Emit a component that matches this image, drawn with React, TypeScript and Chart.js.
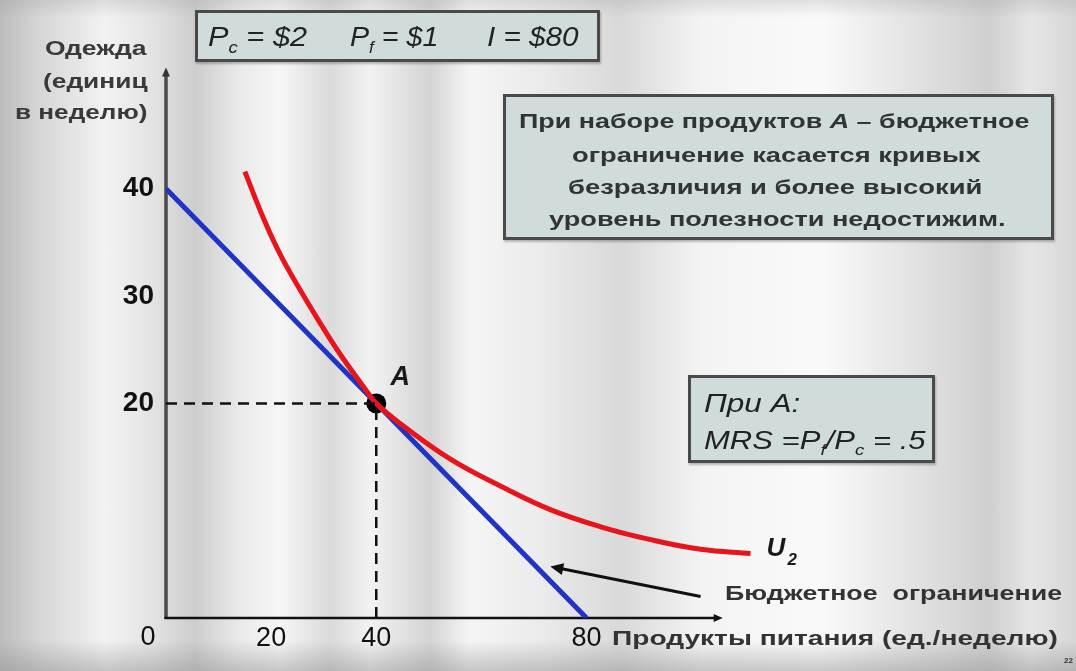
import React, { useEffect, useLayoutEffect, useRef } from "react";
import { Chart, registerables } from "chart.js";

Chart.register(...registerables);

// ---- data ----
const BUDGET_X = [0, 80];
const BUDGET_Y = [40, 0];
const U2_X = [15.0, 18.5, 21.7, 25.0, 28.8, 33.1, 37.5, 40, 44.6, 54.1, 63.6, 73.1, 82.7, 92.2, 101.7, 111.2];
const U2_Y = [41.6, 37.3, 33.9, 31.0, 27.9, 24.6, 21.6, 20, 18.1, 14.8, 12.3, 10.1, 8.5, 7.3, 6.4, 6.0];
const POINT_A = { x: 40, y: 20 };
const X_TICKS = [20, 40, 80];
const Y_TICKS = [20, 30, 40];
const ARROW_FROM = { x: 101.7, y: 2.0 };
const ARROW_TO = { x: 73.1, y: 4.8 };

const FONT = '"Liberation Sans", Arial, sans-serif';

function Fit(props: { x: number; y: number; w: number; size: number; bold?: boolean; italic?: boolean; color?: string; children: any }) {
  const ref = useRef<HTMLSpanElement>(null);
  useLayoutEffect(() => {
    const el = ref.current;
    if (!el) return;
    el.style.transform = "none";
    const nat = el.offsetWidth;
    if (nat > 0) el.style.transform = `scaleX(${props.w / nat})`;
  }, [props.w]);
  return (
    <span
      ref={ref}
      style={{
        position: "absolute",
        left: props.x,
        top: props.y - props.size * 0.6,
        lineHeight: `${props.size * 1.2}px`,
        fontSize: props.size,
        fontFamily: FONT,
        fontWeight: props.bold ? "bold" : "normal",
        fontStyle: props.italic ? "italic" : "normal",
        color: props.color || "#2a2a2a",
        whiteSpace: "nowrap",
        display: "inline-block",
        transformOrigin: "left center",
      }}
    >
      {props.children}
    </span>
  );
}

function Box(props: { l: number; t: number; r: number; b: number }) {
  return (
    <div
      style={{
        position: "absolute",
        left: props.l,
        top: props.t,
        width: props.r - props.l,
        height: props.b - props.t,
        boxSizing: "border-box",
        border: "3px solid #4a4a4a",
        background: "#d0dcdc",
        boxShadow: "1px 2px 2px rgba(0,0,0,0.25)",
      }}
    />
  );
}

const subStyle: React.CSSProperties = { fontSize: "0.6em", verticalAlign: "-0.4em" };

export default function App() {
  const canvasRef = useRef<HTMLCanvasElement>(null);

  useEffect(() => {
    document.body.style.margin = "0";
    const canvas = canvasRef.current!;
    const overlay = {
      id: "overlay",
      beforeDatasetsDraw(chart: any) {
        const { ctx, scales } = chart;
        const xs = scales.x, ys = scales.y;
        const x0 = xs.getPixelForValue(0), y0 = ys.getPixelForValue(0);
        ctx.save();
        // y axis
        const yTop = ys.getPixelForValue(51.3);
        ctx.strokeStyle = "#4a4a4a";
        ctx.lineWidth = 3.5;
        ctx.beginPath();
        ctx.moveTo(x0, y0 + 1);
        ctx.lineTo(x0, yTop + 6);
        ctx.stroke();
        ctx.fillStyle = "#333";
        ctx.beginPath();
        ctx.moveTo(x0, yTop);
        ctx.lineTo(x0 - 4, yTop + 9);
        ctx.lineTo(x0 + 4, yTop + 9);
        ctx.closePath();
        ctx.fill();
        // x axis
        const xRight = xs.getPixelForValue(105.9);
        ctx.strokeStyle = "#111";
        ctx.lineWidth = 2.5;
        ctx.beginPath();
        ctx.moveTo(x0 - 1.5, y0);
        ctx.lineTo(xRight - 6, y0);
        ctx.stroke();
        ctx.fillStyle = "#111";
        ctx.beginPath();
        ctx.moveTo(xRight, y0);
        ctx.lineTo(xRight - 9, y0 - 4);
        ctx.lineTo(xRight - 9, y0 + 4);
        ctx.closePath();
        ctx.fill();
        ctx.restore();
      },
      afterDatasetsDraw(chart: any) {
        const { ctx, scales } = chart;
        const xs = scales.x, ys = scales.y;
        ctx.save();
        // origin label
        ctx.fillStyle = "#111";
        ctx.font = `27px ${FONT}`;
        ctx.textAlign = "center";
        ctx.textBaseline = "middle";
        ctx.fillText("0", xs.getPixelForValue(0) - 18, ys.getPixelForValue(0) + 20);
        // A label
        const ax = xs.getPixelForValue(POINT_A.x), ay = ys.getPixelForValue(POINT_A.y);
        ctx.font = `italic bold 27px ${FONT}`;
        ctx.fillStyle = "#1a1a1a";
        ctx.fillText("A", ax + 24, ay - 26);
        // U2 label
        const ux = xs.getPixelForValue(U2_X[U2_X.length - 1]);
        const uy = ys.getPixelForValue(U2_Y[U2_Y.length - 1]);
        ctx.textAlign = "left";
        ctx.font = `italic bold 26px ${FONT}`;
        ctx.fillText("U", ux + 16, uy - 5);
        ctx.font = `italic bold 17px ${FONT}`;
        ctx.fillText("2", ux + 37, uy + 7);
        // annotation arrow
        const fx = xs.getPixelForValue(ARROW_FROM.x), fy = ys.getPixelForValue(ARROW_FROM.y);
        const tx = xs.getPixelForValue(ARROW_TO.x), ty = ys.getPixelForValue(ARROW_TO.y);
        const ang = Math.atan2(ty - fy, tx - fx);
        ctx.strokeStyle = "#111";
        ctx.lineWidth = 3;
        ctx.beginPath();
        ctx.moveTo(fx, fy);
        ctx.lineTo(tx - 8 * Math.cos(ang), ty - 8 * Math.sin(ang));
        ctx.stroke();
        ctx.fillStyle = "#111";
        ctx.beginPath();
        ctx.moveTo(tx, ty);
        ctx.lineTo(tx - 13 * Math.cos(ang) + 6 * Math.sin(ang), ty - 13 * Math.sin(ang) - 6 * Math.cos(ang));
        ctx.lineTo(tx - 13 * Math.cos(ang) - 6 * Math.sin(ang), ty - 13 * Math.sin(ang) + 6 * Math.cos(ang));
        ctx.closePath();
        ctx.fill();
        ctx.restore();
      },
    };

    const chart = new Chart(canvas, {
      type: "scatter",
      data: {
        datasets: [
          {
            label: "hdash",
            data: [{ x: 0, y: POINT_A.y }, { x: POINT_A.x, y: POINT_A.y }],
            showLine: true,
            borderColor: "#111",
            borderWidth: 2.5,
            borderDash: [11, 7],
            pointRadius: 0,
          },
          {
            label: "vdash",
            data: [{ x: POINT_A.x, y: 0 }, { x: POINT_A.x, y: POINT_A.y }],
            showLine: true,
            borderColor: "#111",
            borderWidth: 2.5,
            borderDash: [11, 7],
            pointRadius: 0,
          },
          {
            label: "U2",
            data: U2_X.map((x, i) => ({ x, y: U2_Y[i] })),
            showLine: true,
            borderColor: "#e8141c",
            borderWidth: 5,
            pointRadius: 0,
            tension: 0.4,
          } as any,
          {
            label: "budget",
            data: BUDGET_X.map((x, i) => ({ x, y: BUDGET_Y[i] })),
            showLine: true,
            borderColor: "#1f33c4",
            borderWidth: 5,
            pointRadius: 0,
          },
          {
            label: "A",
            data: [POINT_A],
            pointRadius: 10,
            pointBackgroundColor: "#000",
            pointBorderColor: "#000",
            borderWidth: 0,
          },
        ],
      },
      options: {
        animation: false,
        responsive: false,
        devicePixelRatio: 1,
        layout: { padding: { top: 60, right: 316, bottom: 0, left: 0 } },
        plugins: { legend: { display: false }, tooltip: { enabled: false } },
        scales: {
          x: {
            type: "linear",
            min: 0,
            max: 113,
            grid: { display: false },
            border: { display: false },
            ticks: { color: "#111", font: { family: FONT, size: 27 }, padding: -4, maxRotation: 0 },
            afterBuildTicks: (s: any) => {
              s.ticks = X_TICKS.map((v) => ({ value: v }));
            },
            afterFit: (s: any) => {
              s.height = 53;
            },
          },
          y: {
            type: "linear",
            min: 0,
            max: 52,
            grid: { display: false },
            border: { display: false },
            ticks: { color: "#111", font: { family: FONT, size: 28, weight: "bold" }, padding: 4 },
            afterBuildTicks: (s: any) => {
              s.ticks = Y_TICKS.map((v) => ({ value: v }));
            },
            afterFit: (s: any) => {
              s.width = 166;
            },
          },
        },
      } as any,
      plugins: [overlay],
    });
    return () => chart.destroy();
  }, []);

  const bg =
    "linear-gradient(180deg, rgba(150,150,150,0.25) 0px, rgba(255,255,255,0) 18px, rgba(255,255,255,0) 640px, rgba(140,140,140,0.45) 671px)," +
    "linear-gradient(90deg, #bcbcbc 0px, #d6d6d6 40px, #f2f2f2 105px, #e4e4e4 150px, #cdcdcd 195px, #eaeaea 240px, #f6f6f6 280px, #dadada 330px, #f2f2f2 370px, #d4d4d4 430px, #f5f5f5 470px, #ebebeb 540px, #d9d9d9 620px, #f3f3f3 700px, #fafafa 820px, #e6e6e6 900px, #cfcfcf 990px, #e6e6e6 1030px, #d6d6d6 1076px)";

  return (
    <div style={{ position: "fixed", left: 0, top: 0, width: 1076, height: 671, background: bg, overflow: "hidden" }}>
      <canvas ref={canvasRef} width={1076} height={671} style={{ position: "absolute", left: 0, top: 0 }} />

      {/* y axis title */}
      <Fit x={45} y={48} w={102} size={20} bold color="#3a3a3a">Одежда</Fit>
      <Fit x={43} y={81} w={104} size={20} bold color="#3a3a3a">(единиц</Fit>
      <Fit x={15} y={112} w={132} size={20} bold color="#3a3a3a">в неделю)</Fit>

      {/* prices box */}
      <Box l={195} t={10} r={600} b={62} />
      <Fit x={208} y={37} w={99} size={28} italic color="#222">
        P<span style={subStyle}>c</span> = $2
      </Fit>
      <Fit x={350} y={37} w={88} size={28} italic color="#222">
        P<span style={subStyle}>f</span> = $1
      </Fit>
      <Fit x={487} y={37} w={91} size={28} italic color="#222">I = $80</Fit>

      {/* description box */}
      <Box l={503} t={94} r={1054} b={240} />
      <Fit x={519} y={121} w={511} size={20} bold color="#333">При наборе продуктов <i>А</i> – бюджетное</Fit>
      <Fit x={572} y={155} w={408} size={20} bold color="#333">ограничение касается кривых</Fit>
      <Fit x={568} y={187} w={414} size={20} bold color="#333">безразличия и более высокий</Fit>
      <Fit x={549} y={219} w={456} size={20} bold color="#333">уровень полезности недостижим.</Fit>

      {/* MRS box */}
      <Box l={688} t={375} r={935} b={463} />
      <Fit x={704} y={403} w={97} size={25} italic color="#222">При А:</Fit>
      <Fit x={704} y={440} w={221} size={25} italic color="#222">
        MRS =P<span style={subStyle}>f</span>/P<span style={subStyle}>c</span> = .5
      </Fit>

      {/* annotations */}
      <Fit x={725} y={593} w={337} size={21} bold color="#333">Бюджетное&nbsp;&nbsp;ограничение</Fit>
      <Fit x={612} y={638} w={446} size={21} bold color="#333">Продукты питания (ед./неделю)</Fit>
      <Fit x={1064} y={661} w={9} size={8} bold color="#333">22</Fit>
    </div>
  );
}
